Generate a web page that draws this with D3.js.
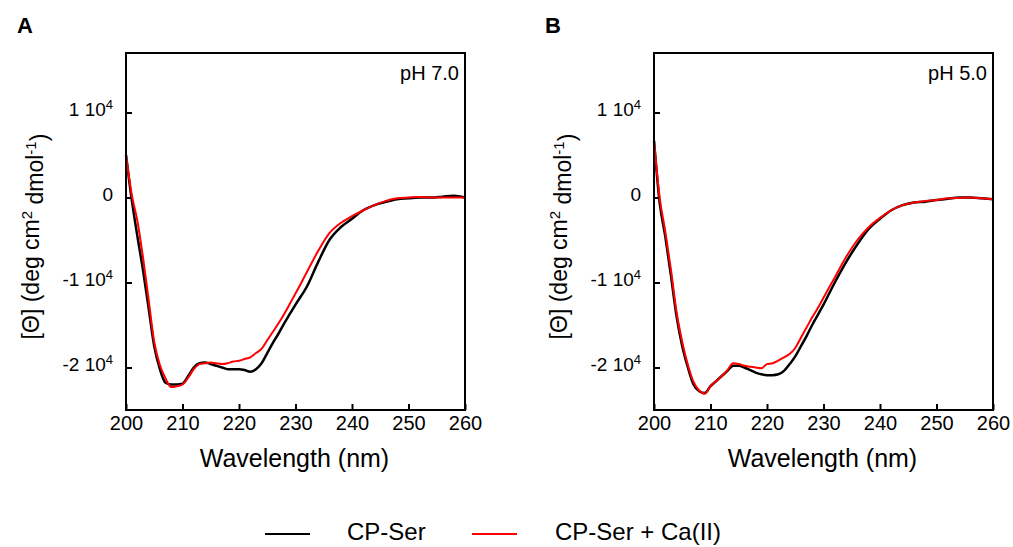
<!DOCTYPE html>
<html>
<head>
<meta charset="utf-8">
<script src="https://cdn.jsdelivr.net/npm/d3@7"></script>
<style>
  body { margin: 0; background: #fff; }
  svg { font-family: Arial, 'Liberation Sans', sans-serif; }
  .axis path { display: none; }
  .axis line { stroke: #000; stroke-width: 2px; }
  .axis text { fill: #000; }
</style>
</head>
<body>
<div id="chart"></div>
<script>
// wavelengths (nm) shared by all four spectra
const wavelengths = [200, 201, 202, 203, 204, 205, 206, 207, 208, 209, 210, 211, 212, 213, 214, 215,
    216, 217, 218, 219, 220, 221, 222, 223, 224, 225, 226, 227, 228, 229, 230, 232, 234, 236, 238,
    240, 242, 244, 246, 248, 250, 252, 254, 256, 258, 260];

// mean residue ellipticity, pH 7.0
const serPH7 = [5000, -200, -4500, -8500, -13000, -17500, -20200, -21800, -22000, -22000, -21900,
    -21000, -20000, -19500, -19400, -19600, -19800, -20000, -20200, -20200, -20200, -20300, -20500,
    -20200, -19500, -18300, -17100, -16000, -14800, -13700, -12600, -10500, -7600, -5000, -3500,
    -2500, -1500, -900, -500, -200, -100, 0, 0, 100, 200, 0];
const serCaPH7 = [5000, 400, -2700, -7000, -12000, -17000, -19700, -21300, -22300, -22200, -22000,
    -21200, -20200, -19600, -19500, -19400, -19500, -19600, -19500, -19300, -19200, -19000, -18800,
    -18300, -17800, -16800, -15800, -14800, -13700, -12500, -11300, -8800, -6300, -4200, -3000,
    -2200, -1500, -900, -400, -100, 0, 50, 0, 0, 0, 0];

// mean residue ellipticity, pH 5.0
const serPH5 = [6700, -600, -4600, -9200, -14000, -17500, -20000, -22000, -22800, -23000, -22200,
    -21600, -21000, -20400, -19800, -19800, -20000, -20300, -20600, -20800, -20900, -20900, -20800,
    -20400, -19600, -18700, -17500, -16300, -15000, -13800, -12600, -10000, -7600, -5500, -3700,
    -2500, -1500, -900, -600, -500, -300, -150, 0, 0, -100, -200];
const serCaPH5 = [6700, 0, -4000, -8500, -13500, -17000, -19700, -21700, -22700, -23100, -22200,
    -21600, -21000, -20300, -19500, -19600, -19800, -19900, -20000, -20100, -19600, -19500, -19200,
    -18800, -18400, -17700, -16500, -15300, -14100, -13000, -11800, -9400, -7000, -5000, -3500,
    -2400, -1500, -900, -600, -400, -300, -100, -50, 0, -100, -200];

const xTicks = [200, 210, 220, 230, 240, 250, 260];
const yTicks = [-20000, -10000, 0, 10000];
const seriesNames = ['CP-Ser', 'CP-Ser + Ca(II)'];
const seriesColors = ['#000000', '#ff0000'];

const panels = [
    {letter: 'A', tag: 'pH 7.0', series: [serPH7, serCaPH7], left: 126},
    {letter: 'B', tag: 'pH 5.0', series: [serPH5, serCaPH5], left: 654}
];

const svgWidth = 1013, svgHeight = 547;
const plotWidth = 339, plotTop = 53, plotBottom = 410;

let svg = d3.select('#chart').append('svg')
    .attr('width', svgWidth)
    .attr('height', svgHeight);

function tick_label(text, v) {
    // "n 10^4" style labels
    text.text(null);
    if (v === 0) {
        text.append('tspan').text('0');
        return;
    }
    text.append('tspan').text((v / 10000) + ' 10');
    text.append('tspan')
        .attr('dy', '-0.55em')
        .style('font-size', '13px')
        .text('4');
}

function make_panel(p) {
    let plotHeight = plotBottom - plotTop;
    let x = d3.scaleLinear().domain([200, 260]).range([0, plotWidth]),
        y = d3.scaleLinear().domain([-25000, 17000]).range([plotHeight, 0]);

    let g = svg.append('g')
        .attr('transform', 'translate(' + p.left + ',' + plotTop + ')');

    let xAxis = d3.axisBottom(x).tickValues(xTicks)
            .tickSizeInner(-6).tickSizeOuter(0).tickPadding(6),
        yAxis = d3.axisLeft(y).tickValues(yTicks)
            .tickSizeInner(-6).tickSizeOuter(0).tickPadding(13);

    g.append('g')
        .attr('class', 'x axis')
        .attr('transform', 'translate(0,' + plotHeight + ')')
        .call(xAxis)
        .selectAll('text')
        .style('font-size', '20px');

    g.append('g')
        .attr('class', 'y axis')
        .call(yAxis)
        .selectAll('text')
        .style('font-size', '19px')
        .attr('dy', '0.15em')
        .each(function (d) {
            tick_label(d3.select(this), d);
        });

    let line = d3.line()
        .curve(d3.curveMonotoneX)
        .x(function (d, i) {
            return x(wavelengths[i]);
        })
        .y(function (d) {
            return y(d);
        });

    p.series.forEach(function (values, k) {
        g.append('path')
            .datum(values)
            .attr('d', line)
            .attr('fill', 'none')
            .attr('stroke', seriesColors[k])
            .attr('stroke-width', k === 0 ? 2.5 : 2)
            .attr('stroke-linejoin', 'round');
    });

    g.append('rect')
        .attr('width', plotWidth)
        .attr('height', plotHeight)
        .attr('fill', 'none')
        .attr('stroke', '#000')
        .attr('stroke-width', 2);

    g.append('text')
        .attr('x', plotWidth - 6)
        .attr('y', 27)
        .attr('text-anchor', 'end')
        .style('font-size', '20px')
        .text(p.tag);

    svg.append('text')
        .attr('x', p.left - 109)
        .attr('y', 33)
        .style('font-size', '22px')
        .style('font-weight', 'bold')
        .text(p.letter);

    svg.append('text')
        .attr('x', p.left + plotWidth / 2 - 1)
        .attr('y', 467)
        .attr('text-anchor', 'middle')
        .style('font-size', '25px')
        .text('Wavelength (nm)');

    // y title with superscripts
    let yt = svg.append('text')
        .attr('transform', 'translate(' + (p.left - 87) + ',' + ((plotTop + plotBottom) / 2 + 5) + ') rotate(-90)')
        .attr('text-anchor', 'middle')
        .style('font-size', '23px');
    yt.append('tspan').text('[\u0398] (deg cm');
    yt.append('tspan').attr('dy', '-0.5em').style('font-size', '15px').text('2');
    yt.append('tspan').attr('dy', '0.5em').text(' dmol');
    yt.append('tspan').attr('dy', '-0.5em').style('font-size', '15px').text('-1');
    yt.append('tspan').attr('dy', '0.5em').text(')');
}

panels.forEach(make_panel);

// legend
let legendX = [265, 472], legendTextX = [347, 555];
seriesNames.forEach(function (name, k) {
    svg.append('line')
        .attr('x1', legendX[k]).attr('x2', legendX[k] + 45)
        .attr('y1', 534).attr('y2', 534)
        .attr('stroke', seriesColors[k])
        .attr('stroke-width', 2);
    svg.append('text')
        .attr('x', legendTextX[k])
        .attr('y', 540)
        .style('font-size', '24px')
        .text(name);
});
</script>
</body>
</html>
